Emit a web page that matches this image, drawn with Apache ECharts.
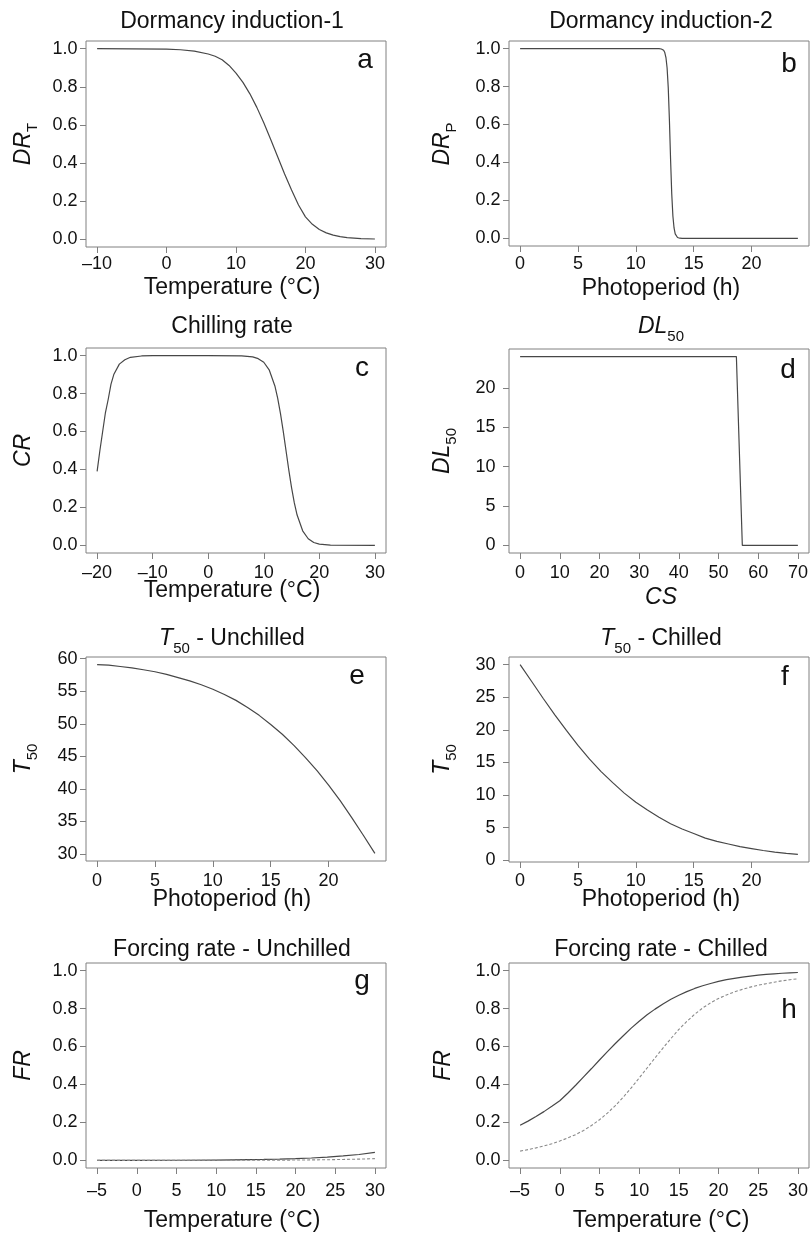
<!DOCTYPE html>
<html>
<head>
<meta charset="utf-8">
<script src="https://cdn.jsdelivr.net/npm/echarts@6/dist/echarts.min.js"></script>
<style>
  html, body { margin: 0; padding: 0; background: #fff; }
  #chart { width: 811px; height: 1234px; }
</style>
</head>
<body>
<div id="chart"></div>
<script>
// a - Dormancy induction-1 (DR_T vs temperature)
var tempA = [-10, -5, 0, 2, 4, 6, 7, 8, 9, 10, 11, 12, 13, 14, 15, 16, 17, 18, 19, 20, 21, 22, 23, 24, 25, 26, 28, 30]
var drT = [1.000, 0.999, 0.997, 0.994, 0.987, 0.972, 0.960, 0.942, 0.912, 0.872, 0.823, 0.763, 0.692, 0.611, 0.524, 0.433, 0.343, 0.259, 0.180, 0.118, 0.079, 0.052, 0.034, 0.022, 0.014, 0.009, 0.004, 0.002]

// b - Dormancy induction-2 (DR_P vs photoperiod)
var photoB = [0, 12, 12.2, 12.4, 12.5, 12.6, 12.7, 12.8, 12.9, 13.0, 13.1, 13.2, 13.3, 13.4, 13.6, 13.8, 14, 24]
var drP = [1, 1, 0.998, 0.991, 0.979, 0.953, 0.898, 0.793, 0.623, 0.416, 0.236, 0.118, 0.055, 0.024, 0.005, 0.001, 0, 0]

// c - Chilling rate
var tempC = [-20, -19.5, -19, -18.5, -18, -17.5, -17, -16, -15, -14, -12, -10, 0, 6, 8, 9, 10, 11, 12, 12.5, 13, 13.5, 14, 14.5, 15, 15.5, 16, 17, 18, 19, 20, 22, 30]
var cr = [0.39, 0.50, 0.60, 0.70, 0.77, 0.85, 0.90, 0.955, 0.978, 0.991, 0.998, 1.0, 1.0, 0.998, 0.993, 0.984, 0.965, 0.923, 0.84, 0.776, 0.696, 0.602, 0.50, 0.398, 0.304, 0.224, 0.16, 0.077, 0.035, 0.0155, 0.007, 0.001, 0]

// d - DL50 vs chilling sum
var csD = [0, 54.5, 56, 70]
var dl50 = [24, 24, 0, 0]

// e - T50 unchilled
var photoE = [0, 1, 2, 3, 4, 5, 6, 7, 8, 9, 10, 11, 12, 13, 14, 15, 16, 17, 18, 19, 20, 21, 22, 23, 24]
var t50Unchilled = [59.1, 59.0, 58.8, 58.6, 58.3, 58.0, 57.6, 57.1, 56.6, 56.0, 55.3, 54.5, 53.6, 52.5, 51.3, 49.9, 48.4, 46.7, 44.8, 42.8, 40.6, 38.2, 35.6, 32.9, 30.1]

// f - T50 chilled
var photoF = [0, 1, 2, 3, 4, 5, 6, 7, 8, 9, 10, 11, 12, 13, 14, 15, 16, 17, 18, 19, 20, 21, 22, 23, 24]
var t50Chilled = [30.0, 27.4, 24.8, 22.3, 19.9, 17.6, 15.5, 13.6, 11.9, 10.3, 8.9, 7.7, 6.6, 5.6, 4.8, 4.1, 3.4, 2.9, 2.5, 2.1, 1.8, 1.5, 1.25, 1.05, 0.9]

// g - Forcing rate unchilled (solid + dashed)
var tempG = [-5, 0, 5, 10, 12, 14, 16, 18, 20, 22, 24, 26, 28, 30]
var frUnchilledA = [0.0002, 0.0004, 0.0009, 0.0019, 0.0026, 0.0036, 0.005, 0.0068, 0.0093, 0.0128, 0.0175, 0.0235, 0.031, 0.042]
var frUnchilledB = [0, 0.0001, 0.0002, 0.0004, 0.0005, 0.0007, 0.0010, 0.0014, 0.0019, 0.0026, 0.0036, 0.0050, 0.0068, 0.0093]

// h - Forcing rate chilled (solid + dashed)
var tempH = [-5, -4, -3, -2, -1, 0, 1, 2, 3, 4, 5, 6, 7, 8, 9, 10, 11, 12, 13, 14, 15, 16, 17, 18, 19, 20, 21, 22, 23, 24, 25, 26, 27, 28, 29, 30]
var frChilledA = [0.185, 0.207, 0.231, 0.257, 0.285, 0.314, 0.354, 0.396, 0.440, 0.484, 0.529, 0.573, 0.616, 0.657, 0.697, 0.733, 0.767, 0.797, 0.824, 0.849, 0.870, 0.889, 0.906, 0.920, 0.932, 0.943, 0.952, 0.959, 0.966, 0.971, 0.976, 0.980, 0.983, 0.986, 0.988, 0.990]
var frChilledB = [0.049, 0.057, 0.066, 0.076, 0.088, 0.102, 0.118, 0.136, 0.158, 0.184, 0.214, 0.249, 0.289, 0.333, 0.382, 0.434, 0.487, 0.540, 0.592, 0.642, 0.690, 0.732, 0.770, 0.803, 0.830, 0.853, 0.872, 0.888, 0.901, 0.913, 0.923, 0.931, 0.939, 0.946, 0.952, 0.957]

// tick values
var probTicks = [0, 0.2, 0.4, 0.6, 0.8, 1.0]
var tempTicksA = [-10, 0, 10, 20, 30]
var tempTicksC = [-20, -10, 0, 10, 20, 30]
var hourTicks = [0, 5, 10, 15, 20]
var csTicks = [0, 10, 20, 30, 40, 50, 60, 70]
var dlTicks = [0, 5, 10, 15, 20]
var t50UTicks = [30, 35, 40, 45, 50, 55, 60]
var t50CTicks = [0, 5, 10, 15, 20, 25, 30]
var forceTicks = [-5, 0, 5, 10, 15, 20, 25, 30]

var FONT = 'Liberation Sans'
var INK = '#111111'
var BOX = '#808080'
var LINE = '#474747'

function pairs(xs, ys) {
  return xs.map(function(x, i) { return [x, ys[i]] })
}
function numFmt(digits) {
  return function(v) {
    var s = digits ? v.toFixed(digits) : String(v)
    return s.replace('-', '\u2013')
  }
}

// layout of each panel (px) and axis ranges (R style 4% padding)
var panels = [
  { left: 86, top: 41, height: 206, x: [-11.6, 31.6], y: [-0.04, 1.04], xt: tempTicksA, yt: probTicks, yd: 1, xm: 8, ym: 8.5,
    series: [[tempA, drT, 'solid']] },
  { left: 509, top: 41, height: 205, x: [-0.96, 24.96], y: [-0.04, 1.04], xt: hourTicks, yt: probTicks, yd: 1, xm: 9, ym: 8.5,
    series: [[photoB, drP, 'solid']] },
  { left: 86, top: 348, height: 205, x: [-22, 32], y: [-0.04, 1.04], xt: tempTicksC, yt: probTicks, yd: 1, xm: 11, ym: 8.5,
    series: [[tempC, cr, 'solid']] },
  { left: 509, top: 349, height: 204, x: [-2.8, 72.8], y: [-0.96, 24.96], xt: csTicks, yt: dlTicks, yd: 0, xm: 11, ym: 13.5,
    series: [[csD, dl50, 'solid']] },
  { left: 86, top: 657, height: 204, x: [-0.96, 24.96], y: [28.94, 60.26], xt: hourTicks, yt: t50UTicks, yd: 0, xm: 11.5, ym: 8.5,
    series: [[photoE, t50Unchilled, 'solid']] },
  { left: 509, top: 657, height: 205, x: [-0.96, 24.96], y: [-0.26, 31.16], xt: hourTicks, yt: t50CTicks, yd: 0, xm: 10.5, ym: 13.5,
    series: [[photoF, t50Chilled, 'solid']] },
  { left: 86, top: 963, height: 205, x: [-6.4, 31.4], y: [-0.04, 1.04], xt: forceTicks, yt: probTicks, yd: 1, xm: 13.8, ym: 8.5,
    series: [[tempG, frUnchilledA, 'solid'], [tempG, frUnchilledB, 'dashed']] },
  { left: 509, top: 963, height: 205, x: [-6.4, 31.4], y: [-0.04, 1.04], xt: forceTicks, yt: probTicks, yd: 1, xm: 13.8, ym: 8.5,
    series: [[tempH, frChilledA, 'solid'], [tempH, frChilledB, 'dashed']] }
]

var grids = [], xAxes = [], yAxes = [], series = []
panels.forEach(function(p, i) {
  grids.push({
    left: p.left, top: p.top, width: 300, height: p.height,
    show: true, borderColor: BOX, borderWidth: 1, backgroundColor: 'transparent'
  })
  xAxes.push({
    gridIndex: i, type: 'value', position: 'bottom', min: p.x[0], max: p.x[1],
    axisLine: { show: false, onZero: false }, splitLine: { show: false },
    axisTick: { show: true, length: 6, lineStyle: { color: BOX }, customValues: p.xt },
    axisLabel: { customValues: p.xt, formatter: numFmt(0), margin: p.xm, fontSize: 18, color: INK, fontFamily: FONT }
  })
  yAxes.push({
    gridIndex: i, type: 'value', position: 'left', min: p.y[0], max: p.y[1],
    axisLine: { show: false, onZero: false }, splitLine: { show: false },
    axisTick: { show: true, length: 6, lineStyle: { color: BOX }, customValues: p.yt },
    axisLabel: { customValues: p.yt, formatter: numFmt(p.yd), margin: p.ym, fontSize: 18, color: INK, fontFamily: FONT }
  })
  p.series.forEach(function(s) {
    var dashed = s[2] === 'dashed'
    series.push({
      type: 'line', xAxisIndex: i, yAxisIndex: i,
      data: pairs(s[0], s[1]),
      symbol: 'none', showSymbol: false, silent: true,
      lineStyle: dashed ? { color: '#8a8a8a', width: 1.1, type: [3, 2] } : { color: LINE, width: 1.2 }
    })
  })
})

// text helpers (titles, axis names, panel letters)
function rich(size) {
  return {
    i: { fontStyle: 'italic', fontSize: size, fontFamily: FONT, lineHeight: 34, verticalAlign: 'middle', fill: INK },
    n: { fontSize: size, fontFamily: FONT, lineHeight: 34, verticalAlign: 'middle', fill: INK },
    s: { fontSize: 15, fontFamily: FONT, lineHeight: 34, verticalAlign: 'bottom', fill: INK }
  }
}
function label(x, y, text, rotate, size) {
  size = size || 23
  return {
    type: 'text', x: x, y: y, rotation: rotate ? Math.PI / 2 : 0, silent: true,
    style: {
      text: text, rich: rich(size), fontSize: size, fontFamily: FONT, fill: INK,
      align: 'center', verticalAlign: 'middle', textAlign: 'center', textVerticalAlign: 'middle'
    }
  }
}

var graphics = [
  // titles
  label(232, 21.5, '{n|Dormancy induction-1}'),
  label(661, 21.5, '{n|Dormancy induction-2}'),
  label(232, 327, '{n|Chilling rate}'),
  label(661, 327, '{i|DL}{s|50}'),
  label(232, 639, '{i|T}{s|50}{n| - Unchilled}'),
  label(661, 639, '{i|T}{s|50}{n| - Chilled}'),
  label(232, 950, '{n|Forcing rate - Unchilled}'),
  label(661, 950, '{n|Forcing rate - Chilled}'),
  // x axis names
  label(232, 287.5, '{n|Temperature (\u00B0C)}'),
  label(661, 288.5, '{n|Photoperiod (h)}'),
  label(232, 590.5, '{n|Temperature (\u00B0C)}'),
  label(661, 597.5, '{i|CS}'),
  label(232, 899.5, '{n|Photoperiod (h)}'),
  label(661, 900, '{n|Photoperiod (h)}'),
  label(232, 1221, '{n|Temperature (\u00B0C)}'),
  label(661, 1221, '{n|Temperature (\u00B0C)}'),
  // y axis names
  label(23.5, 144, '{i|DR}{s|T}', true),
  label(442.5, 144, '{i|DR}{s|P}', true),
  label(23.5, 450.5, '{i|CR}', true),
  label(442.5, 451, '{i|DL}{s|50}', true),
  label(23.5, 759, '{i|T}{s|50}', true),
  label(442.5, 759.5, '{i|T}{s|50}', true),
  label(23.5, 1065.5, '{i|FR}', true),
  label(443.5, 1065.5, '{i|FR}', true),
  // panel letters
  label(365, 60, '{n|a}', false, 28),
  label(789, 64, '{n|b}', false, 28),
  label(362, 368, '{n|c}', false, 28),
  label(788, 370, '{n|d}', false, 28),
  label(357, 676, '{n|e}', false, 28),
  label(785, 677, '{n|f}', false, 28),
  label(362, 981, '{n|g}', false, 28),
  label(789, 1010, '{n|h}', false, 28)
]

var chart = echarts.init(document.getElementById('chart'))
chart.setOption({
  animation: false,
  backgroundColor: '#ffffff',
  textStyle: { fontFamily: FONT },
  grid: grids,
  xAxis: xAxes,
  yAxis: yAxes,
  series: series,
  graphic: graphics
})
</script>
</body>
</html>
